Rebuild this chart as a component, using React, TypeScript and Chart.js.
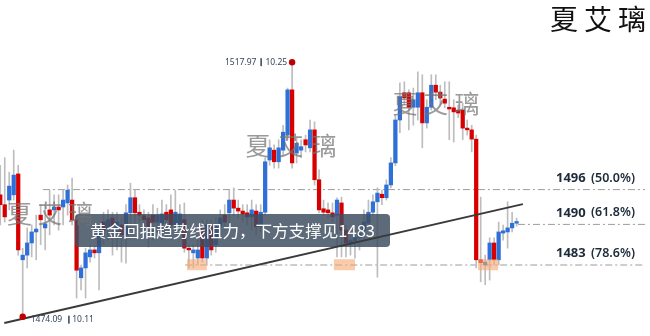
import React, { useEffect, useRef } from "react";
import { Chart, registerables } from "chart.js";

Chart.register(...registerables);

// ---- Data (XAUUSD candles) ----
const opens = [
  1495.1, 1493.4, 1494.2, 1495.1, 1498.7, 1483.9, 1484.7, 1486.8, 1488.7, 1491.6,
  1489.4, 1492.5, 1492.5, 1493.0, 1493.0, 1493.7, 1494.2, 1490.8, 1480.8, 1482.5,
  1484.4, 1485.6, 1485.1, 1490.4, 1489.4, 1491.1, 1488.7, 1489.9, 1488.2, 1492.0,
  1494.6, 1492.1, 1491.5, 1491.1, 1491.6, 1490.4, 1490.1, 1492.1, 1492.5, 1489.9,
  1489.9, 1490.8, 1485.9, 1485.1, 1484.2, 1489.4, 1484.2, 1489.6, 1486.5, 1489.7,
  1491.6, 1492.0, 1494.2, 1492.8, 1492.3, 1492.0, 1491.3, 1492.3, 1489.6, 1492.1,
  1501.1, 1502.8, 1500.8, 1502.8, 1505.4, 1513.2, 1502.3, 1502.8, 1504.6, 1503.2,
  1506.3, 1497.7, 1492.7, 1492.5, 1492.0, 1491.6, 1493.7, 1489.0, 1486.8, 1487.1,
  1487.7, 1489.0, 1490.2, 1492.1, 1493.9, 1495.2, 1494.6, 1496.8, 1500.6, 1508.0,
  1512.7, 1512.7, 1510.2, 1510.2, 1512.7, 1507.5, 1510.2, 1514.0, 1512.8, 1511.6,
  1510.2, 1510.1, 1509.7, 1509.7, 1506.6, 1506.3, 1504.7, 1483.9, 1483.0, 1483.9,
  1486.8, 1483.9, 1488.5, 1488.7, 1489.4, 1490.2,
];
const highs = [
  1500.2, 1501.5, 1499.0, 1502.8, 1500.2, 1485.9, 1489.4, 1489.9, 1491.6, 1493.4,
  1493.4, 1495.9, 1495.1, 1495.1, 1495.9, 1496.8, 1498.0, 1491.6, 1483.0, 1485.9,
  1486.5, 1486.3, 1489.9, 1492.1, 1492.5, 1492.1, 1492.1, 1491.1, 1493.4, 1497.1,
  1495.9, 1493.4, 1492.5, 1492.1, 1493.4, 1492.8, 1494.2, 1493.4, 1495.1, 1495.9,
  1493.4, 1493.7, 1486.5, 1486.5, 1487.3, 1490.8, 1490.8, 1490.8, 1491.1, 1492.5,
  1493.4, 1495.9, 1496.3, 1494.2, 1493.4, 1493.4, 1494.2, 1493.4, 1493.4, 1501.5,
  1504.6, 1503.7, 1504.6, 1507.1, 1513.5, 1517.97, 1504.9, 1504.6, 1505.4, 1508.0,
  1507.7, 1499.4, 1494.2, 1493.7, 1493.7, 1494.6, 1494.7, 1489.9, 1488.7, 1489.0,
  1489.9, 1492.5, 1494.2, 1495.1, 1496.3, 1495.9, 1497.7, 1501.5, 1508.9, 1514.4,
  1514.6, 1513.2, 1513.5, 1516.3, 1515.8, 1511.5, 1515.8, 1515.8, 1514.0, 1514.6,
  1514.6, 1511.5, 1510.6, 1510.9, 1508.0, 1507.1, 1505.4, 1494.7, 1484.7, 1487.7,
  1487.7, 1490.4, 1489.9, 1493.9, 1492.1, 1491.1,
];
const lows = [
  1489.9, 1490.4, 1492.5, 1494.2, 1484.7, 1474.09, 1482.5, 1484.4, 1483.9, 1486.5,
  1485.6, 1488.2, 1489.9, 1489.0, 1489.9, 1491.6, 1489.9, 1477.3, 1478.7, 1477.3,
  1483.5, 1484.2, 1478.7, 1486.5, 1487.3, 1484.7, 1485.6, 1483.5, 1483.3, 1489.0,
  1489.9, 1490.4, 1489.9, 1486.1, 1487.3, 1488.7, 1487.3, 1489.4, 1488.2, 1488.7,
  1488.2, 1485.2, 1482.5, 1482.5, 1483.0, 1483.5, 1483.0, 1484.7, 1485.2, 1488.2,
  1489.0, 1489.9, 1491.5, 1491.1, 1490.4, 1489.9, 1489.0, 1488.2, 1488.7, 1491.6,
  1500.2, 1499.7, 1499.7, 1502.0, 1504.6, 1499.7, 1500.6, 1501.5, 1502.5, 1502.5,
  1496.8, 1492.0, 1491.5, 1491.1, 1490.4, 1484.4, 1484.4, 1484.4, 1484.7, 1484.2,
  1485.6, 1487.3, 1489.6, 1491.6, 1480.9, 1493.4, 1494.2, 1496.3, 1500.1, 1505.8,
  1510.6, 1506.3, 1507.1, 1508.0, 1503.2, 1506.6, 1509.7, 1511.5, 1510.6, 1510.1,
  1504.6, 1504.2, 1508.4, 1504.6, 1505.4, 1502.5, 1482.5, 1480.1, 1479.6, 1480.4,
  1483.0, 1483.0, 1487.3, 1485.9, 1488.7, 1489.7,
];
const closes = [
  1493.4, 1491.3, 1496.6, 1498.5, 1485.6, 1484.7, 1486.8, 1488.7, 1489.2, 1490.8,
  1490.1, 1491.6, 1493.0, 1492.5, 1494.2, 1495.9, 1490.8, 1482.1, 1482.5, 1485.1,
  1485.6, 1485.1, 1489.4, 1489.0, 1490.8, 1489.7, 1490.4, 1488.2, 1492.0, 1494.6,
  1492.0, 1491.6, 1490.8, 1489.6, 1490.4, 1491.6, 1491.8, 1490.8, 1489.9, 1492.1,
  1491.8, 1485.9, 1485.6, 1485.6, 1485.6, 1484.2, 1489.9, 1485.6, 1489.9, 1491.1,
  1490.4, 1494.2, 1492.8, 1492.3, 1491.8, 1491.3, 1492.5, 1489.6, 1492.1, 1500.8,
  1503.2, 1500.8, 1503.2, 1505.9, 1513.2, 1500.6, 1504.0, 1503.4, 1503.7, 1506.3,
  1497.7, 1492.5, 1492.1, 1492.0, 1491.3, 1494.2, 1489.0, 1486.8, 1487.3, 1487.7,
  1488.4, 1490.4, 1492.1, 1493.9, 1495.4, 1494.6, 1496.8, 1500.6, 1508.0, 1512.0,
  1511.8, 1510.2, 1511.5, 1512.7, 1507.5, 1510.2, 1514.0, 1512.8, 1511.8, 1510.9,
  1509.9, 1509.4, 1509.2, 1506.6, 1506.3, 1504.7, 1483.9, 1483.4, 1483.5, 1486.8,
  1483.9, 1488.7, 1488.9, 1489.4, 1490.2, 1490.5,
];

const levelValues = [1496, 1490, 1483];
const levelNames = ["1496", "1490", "1483"];
const levelPcts = ["(50.0%)", "(61.8%)", "(78.6%)"];
const levelStarts = [9.5, 115.3, 41.2];
const levelEnd = 143.6;

const trendPoints = [
  { x: 0.9, y: 1473.0 },
  { x: 116.4, y: 1493.5 },
];

const highMark = { index: 65, price: 1517.97, text: "1517.97", vol: "10.25" };
const lowMark = { index: 5, price: 1474.09, text: "1474.09", vol: "10.11" };

const zoneRanges = [
  [41.6, 46.0],
  [74.3, 79.0],
  [106.4, 110.9],
];
const zonePrices = [1482.1, 1484.0];

const noteText = "黄金回抽趋势线阻力，下方支撑见1483";
const watermarkChars = ["夏", "艾", "璃"];

const UP = "#2f6fd8";
const DOWN = "#d60000";

const overlayPlugin = {
  id: "overlayPlugin",
  afterDatasetDraw(chart: any, args: any) {
    const ds = chart.data.datasets[args.index];
    if (ds.label !== "bodies") return;
    const { ctx } = chart;
    const xs = chart.scales.x;
    const ys = chart.scales.y;
    ctx.save();
    // highlight zones
    ctx.fillStyle = "rgba(245,168,115,0.6)";
    zoneRanges.forEach(([a, b]) => {
      const x0 = xs.getPixelForValue(a);
      const x1 = xs.getPixelForValue(b);
      const y0 = ys.getPixelForValue(zonePrices[1]);
      const y1 = ys.getPixelForValue(zonePrices[0]);
      ctx.fillRect(x0, y0, x1 - x0, y1 - y0);
    });
    // note box
    const bx = 75, by = 214, bw = 315, bh = 33, r = 4;
    ctx.fillStyle = "rgba(62,78,96,0.84)";
    ctx.beginPath();
    ctx.moveTo(bx + r, by);
    ctx.lineTo(bx + bw - r, by);
    ctx.quadraticCurveTo(bx + bw, by, bx + bw, by + r);
    ctx.lineTo(bx + bw, by + bh - r);
    ctx.quadraticCurveTo(bx + bw, by + bh, bx + bw - r, by + bh);
    ctx.lineTo(bx + r, by + bh);
    ctx.quadraticCurveTo(bx, by + bh, bx, by + bh - r);
    ctx.lineTo(bx, by + r);
    ctx.quadraticCurveTo(bx, by, bx + r, by);
    ctx.closePath();
    ctx.fill();
    ctx.fillStyle = "#ffffff";
    ctx.font = '16px "Noto Sans CJK SC"';
    ctx.textBaseline = "middle";
    ctx.textAlign = "left";
    const w = ctx.measureText(noteText).width;
    const target = 285;
    ctx.save();
    ctx.translate(90, by + bh / 2);
    ctx.scale(target / w, 1);
    ctx.fillText(noteText, 0, 0);
    ctx.restore();
    ctx.restore();
  },
  afterDatasetsDraw(chart: any) {
    const { ctx } = chart;
    const xs = chart.scales.x;
    const ys = chart.scales.y;
    ctx.save();
    // gray watermarks
    ctx.fillStyle = "rgba(115,115,115,0.72)";
    ctx.textAlign = "center";
    ctx.textBaseline = "middle";
    ctx.font = '25px "Noto Sans CJK SC"';
    const wm = [
      { xs: [19.5, 50, 80.5], y: 213 },
      { xs: [258, 291, 324], y: 145 },
      { xs: [405, 436, 467], y: 103 },
    ];
    wm.forEach((m) => m.xs.forEach((cx, i) => ctx.fillText(watermarkChars[i], cx, m.y)));
    // top right watermark
    ctx.fillStyle = "#111111";
    ctx.font = '28px "Noto Sans CJK SC"';
    [564, 598, 632].forEach((cx, i) => ctx.fillText(watermarkChars[i], cx, 19));

    // level labels
    ctx.fillStyle = "#1d2a3a";
    ctx.textAlign = "left";
    ctx.textBaseline = "middle";
    levelValues.forEach((v, i) => {
      const yy = ys.getPixelForValue(v) - 11.5;
      ctx.font = 'bold 13px "Noto Sans"';
      ctx.fillText(levelNames[i], 556, yy);
      ctx.font = '600 12.5px "Noto Sans"';
      ctx.fillText(levelPcts[i], 591, yy);
    });

    // extreme markers
    const marks = [
      { m: highMark, dy: 0, side: "left" },
      { m: lowMark, dy: 3, side: "right" },
    ];
    marks.forEach(({ m, dy, side }) => {
      const px = xs.getPixelForValue(m.index);
      const py = ys.getPixelForValue(m.price);
      ctx.fillStyle = "#c00000";
      ctx.beginPath();
      ctx.arc(px, py, 3.2, 0, Math.PI * 2);
      ctx.fill();
      ctx.fillStyle = "#34465a";
      ctx.font = '8.5px "Noto Sans"';
      ctx.textBaseline = "middle";
      const ty = py + dy;
      if (side === "left") {
        ctx.textAlign = "right";
        ctx.fillText(m.vol, px - 5, ty);
        const vw = ctx.measureText(m.vol).width;
        ctx.fillRect(px - 5 - vw - 5, ty - 4, 1.5, 8);
        ctx.fillText(m.text, px - 5 - vw - 9, ty);
      } else {
        ctx.textAlign = "left";
        ctx.fillText(m.text, px + 8, ty);
        const tw = ctx.measureText(m.text).width;
        ctx.fillRect(px + 8 + tw + 6, ty - 4, 1.5, 8);
        ctx.fillText(m.vol, px + 8 + tw + 10, ty);
      }
    });
    ctx.restore();
  },
};

export default function App() {
  const ref = useRef<HTMLCanvasElement | null>(null);
  useEffect(() => {
    if (!ref.current) return;
    const idx = opens.map((_, i) => i);
    const bodyColors = idx.map((i) => (closes[i] >= opens[i] ? UP : DOWN));
    const levelDatasets = levelValues.map((v, i) => ({
      type: "line" as const,
      label: "level" + levelNames[i],
      data: [
        { x: levelStarts[i], y: v },
        { x: levelEnd, y: v },
      ],
      borderColor: "#9c9c9c",
      borderWidth: 1,
      borderDash: [7, 3, 2, 3],
      pointRadius: 0,
      order: 3,
    }));
    const chart = new Chart(ref.current, {
      type: "bar",
      data: {
        datasets: [
          {
            type: "line",
            label: "trend",
            data: trendPoints,
            borderColor: "#3a3a3a",
            borderWidth: 2,
            pointRadius: 0,
            order: 0,
          } as any,
          {
            type: "bar",
            label: "bodies",
            data: idx.map((i) => ({ x: i, y: [opens[i], closes[i]] })),
            backgroundColor: bodyColors,
            barThickness: 3.6,
            minBarLength: 1.5,
            grouped: false,
            order: 1,
          } as any,
          {
            type: "bar",
            label: "wicks",
            data: idx.map((i) => ({ x: i, y: [lows[i], highs[i]] })),
            backgroundColor: "#bdbdbd",
            barThickness: 1,
            grouped: false,
            order: 2,
          } as any,
          ...levelDatasets,
        ],
      },
      options: {
        responsive: false,
        animation: false,
        devicePixelRatio: 1,
        layout: { padding: 0 },
        plugins: { legend: { display: false }, tooltip: { enabled: false } },
        scales: {
          x: { type: "linear", min: -0.056, max: 144.71, offset: false, display: false },
          y: { type: "linear", min: 1470.76, max: 1528.69, display: false },
        },
      } as any,
      plugins: [overlayPlugin],
    });
    return () => chart.destroy();
  }, []);
  return (
    <div style={{ position: "fixed", left: 0, top: 0, width: 650, height: 336, background: "#fff" }}>
      <canvas ref={ref} width={650} height={336} />
    </div>
  );
}
